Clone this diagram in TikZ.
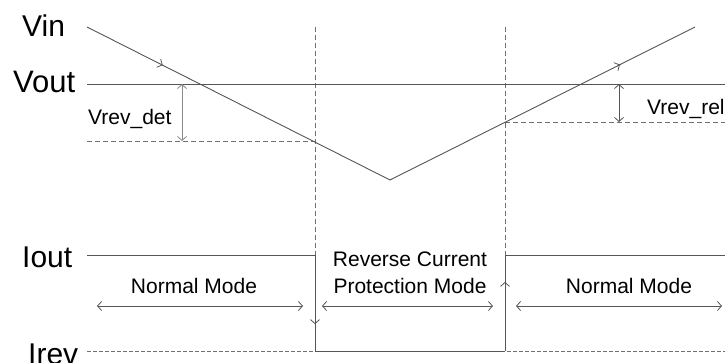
\documentclass[tikz,border=0pt]{standalone}
\usepackage{fontspec}
\setmainfont{Liberation Sans}
\usetikzlibrary{arrows.meta,decorations.markings}
\definecolor{lineg}{HTML}{555555}
\definecolor{dashg}{HTML}{707070}
\definecolor{arrg}{HTML}{8A8A8A}
\tikzset{
  sig/.style={draw=lineg, line width=0.9pt},
  dsh/.style={draw=dashg, line width=0.9pt, dash pattern=on 5pt off 3pt},
  dshfine/.style={draw=dashg, line width=0.9pt, dash pattern=on 4pt off 2pt},
  tip/.tip={Straight Barb[length=4pt,width=9pt,line width=0.8pt]},
  midarrow/.style={postaction={decorate},decoration={markings,mark=at position #1 with {\arrow{tip}}}},
  dim/.style={draw=#1, line width=0.8pt, tip-tip},
  big/.style={inner sep=0pt, anchor=base west, font=\fontsize{30}{34}\selectfont},
  lbl/.style={inner sep=0pt, anchor=base, font=\fontsize{21}{25}\selectfont},
}
\begin{document}
\begin{tikzpicture}[x=1pt,y=-1pt]
\useasboundingbox (0,0) rectangle (725,363);
% coordinates
\coordinate (vin0) at (87,27);
\coordinate (vmin) at (390,180);
\coordinate (vin1) at (695,27);
\coordinate (vo0) at (87,84);
\coordinate (vo1) at (725,84);
\coordinate (dl0) at (315,27);
\coordinate (dl1) at (315,350);
\coordinate (dr0) at (505,27);
\coordinate (dr1) at (505,350);
\coordinate (det0) at (87,141);
\coordinate (det1) at (315,141);
\coordinate (rel0) at (505,122);
\coordinate (rel1) at (725,122);
\coordinate (da0) at (182,84);
\coordinate (da1) at (182,141);
\coordinate (ra0) at (619,84);
\coordinate (ra1) at (619,122);
\coordinate (io0) at (87,255);
\coordinate (io1) at (315,255);
\coordinate (io2) at (505,255);
\coordinate (io3) at (725,255);
\coordinate (ir0) at (87,351);
\coordinate (ir1) at (315,351);
\coordinate (ir2) at (505,351);
\coordinate (ir3) at (725,351);
\coordinate (nl0) at (97,306);
\coordinate (nl1) at (303,306);
\coordinate (rc0) at (322,306);
\coordinate (rc1) at (493,306);
\coordinate (nr0) at (516,306);
\coordinate (nr1) at (722,306);
% labels
\node[big] (vin) at (22,37) {Vin};
\node[big, font=\fontsize{31}{35}\selectfont] (vout) at (13,93) {Vout};
\node[big] (iout) at (22,267) {Iout};
\node[big] (irev) at (28,364) {Irev};
\node[lbl, anchor=base west] (vdet) at (88,125) {Vrev\_det};
\node[lbl, anchor=base west] (vrel) at (647,115) {Vrev\_rel};
\node[lbl] (nm1) at (194,293) {Normal Mode};
\node[lbl] (rc1t) at (410,266) {Reverse Current};
\node[lbl] (rc2t) at (410,293) {Protection Mode};
\node[lbl] (nm2) at (629,293) {Normal Mode};
% dashed guides
\draw[dsh] (dl0) -- (dl1);
\draw[dsh] (dr0) -- (dr1);
\draw[dsh] (det0) -- (det1);
\draw[dsh] (rel0) -- (rel1);
\draw[dshfine] (ir0) -- (ir3);
% Vout
\draw[sig] (vo0) -- (vo1);
% Vin
\draw[sig, midarrow=0.25] (vin0) -- (vmin);
\draw[sig, midarrow=0.754] (vmin) -- (vin1);
% dimension arrows
\draw[dim=arrg] (da0) -- (da1);
\draw[dim=lineg] (ra0) -- (ra1);
% current
\draw[sig] (io0) -- (io1);
\draw[sig, midarrow=0.72] (io1) -- (ir1);
\draw[sig] (ir1) -- (ir2);
\draw[sig, midarrow=0.72] (ir2) -- (io2);
\draw[sig] (io2) -- (io3);
% mode arrows
\draw[dim=lineg] (nl0) -- (nl1);
\draw[dim=lineg] (rc0) -- (rc1);
\draw[dim=lineg] (nr0) -- (nr1);
\end{tikzpicture}
\end{document}
